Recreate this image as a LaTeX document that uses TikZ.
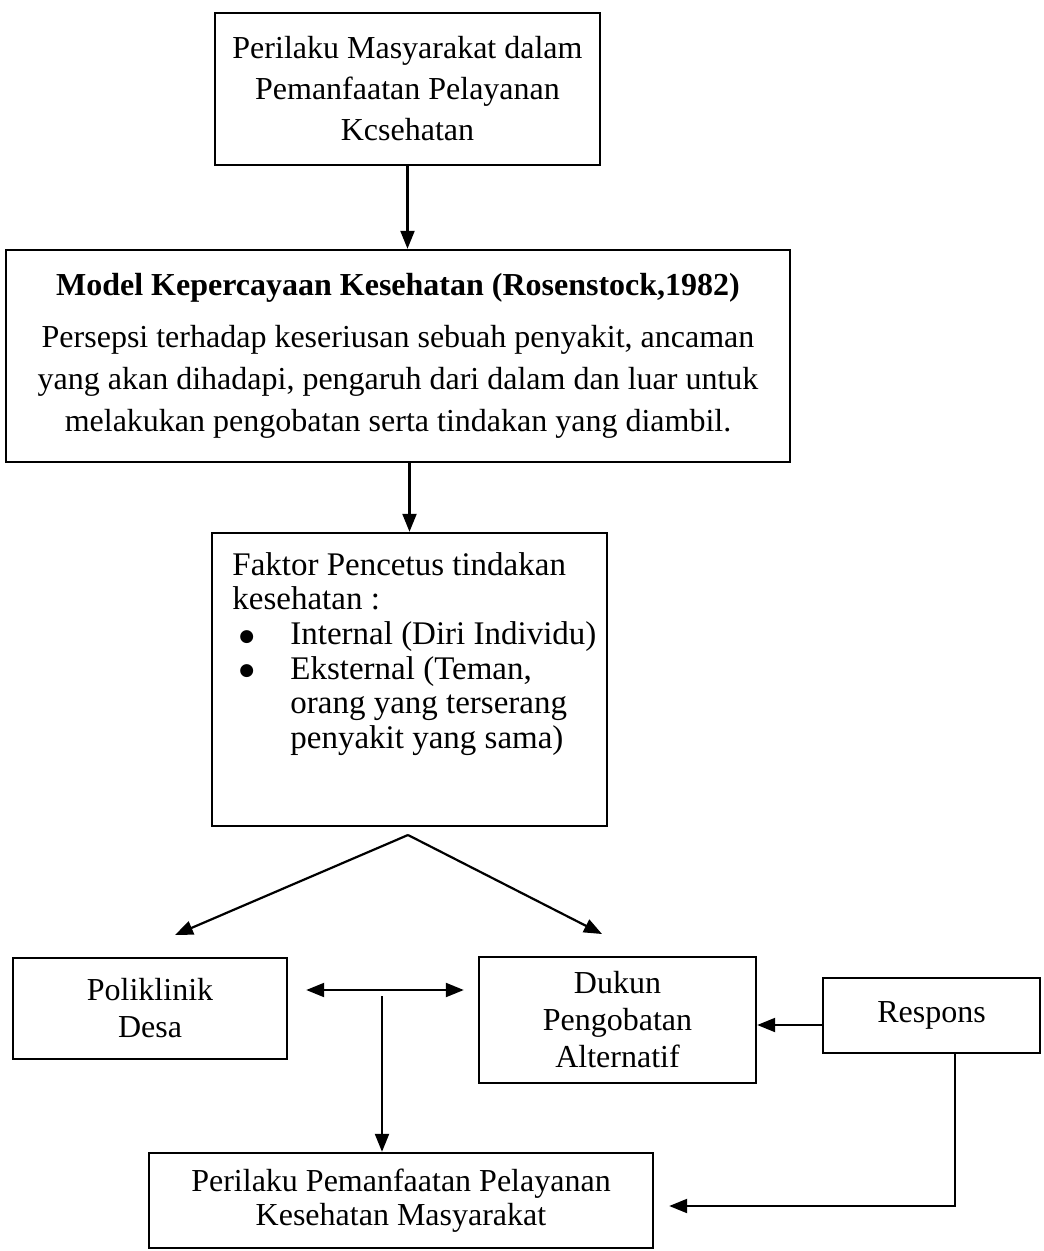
\documentclass[tikz,border=0pt]{standalone}
\usepackage{fontspec}
\setmainfont{Liberation Serif}
\newfontfamily\dvsfont{DejaVu Sans}
\usetikzlibrary{arrows.meta}
\newcommand\myBul{\makebox[29pt][l]{\hspace*{3.5pt}\raisebox{1.6pt}{\dvsfont\fontsize{8.5}{8.5}\selectfont ●}}}
\newcommand\myInd{\hspace*{29pt}}
\begin{document}
\begin{tikzpicture}[x=0.5pt,y=-0.5pt,
  box/.style={draw, line width=1.2pt, inner sep=0pt, align=center},
  arr/.style={line width=1.1pt, -{Triangle[length=9pt,width=7pt]}},
  darr/.style={line width=1.1pt, {Triangle[length=9pt,width=7pt]}-{Triangle[length=9pt,width=7pt]}},
]
\useasboundingbox (0,0) rectangle (1043,1251);
\fill[white] (0,0) rectangle (1043,1251);

\node[box, minimum width=192.5pt, minimum height=76pt, font=\fontsize{16}{20.5}\selectfont] (b1) at (407.5,89)
  {Perilaku Masyarakat dalam\\Pemanfaatan Pelayanan\\Kcsehatan};

\node[box, minimum width=392pt, minimum height=106pt, font=\fontsize{16}{21}\selectfont] (b2) at (398,356)
  {\textbf{Model Kepercayaan Kesehatan (Rosenstock,1982)}\\[5pt]
   Persepsi terhadap keseriusan sebuah penyakit, ancaman\\
   yang akan dihadapi, pengaruh dari dalam dan luar untuk\\
   melakukan pengobatan serta tindakan yang diambil.};

\node[box, minimum width=197.5pt, minimum height=146.5pt] (b3) at (409.5,679.5) {};
\node[inner sep=0pt, anchor=north west, align=left, font=\fontsize{16.5}{17.3}\selectfont] (t3) at (232,552)
  {Faktor Pencetus tindakan\\
   kesehatan :\\
   \myBul Internal (Diri Individu)\\
   \myBul Eksternal (Teman,\\
   \myInd orang yang terserang\\
   \myInd penyakit yang sama)};

\node[box, minimum width=137pt, minimum height=50.5pt, font=\fontsize{16}{18.5}\selectfont] (b4) at (150,1008.5)
  {Poliklinik\\Desa};
\node[box, minimum width=138.5pt, minimum height=63pt, font=\fontsize{16}{18.5}\selectfont] (b5) at (617.5,1020)
  {Dukun\\Pengobatan\\Alternatif};
\node[box, minimum width=108.5pt, minimum height=37.5pt, font=\fontsize{16}{18.5}\selectfont] (b6) at (931.5,1015.5)
  {Respons};
\node[box, minimum width=252pt, minimum height=47.5pt, font=\fontsize{16}{17}\selectfont] (b7) at (401,1200.5)
  {Perilaku Pemanfaatan Pelayanan\\Kesehatan Masyarakat};

% connectors
\draw[arr] (b1.south) -- (b1.south |- b2.north);
\draw[arr] (b3.north |- b2.south) -- (b3.north);

\coordinate (apex) at (408,835);
\coordinate (tipL) at (175,935);
\coordinate (tipR) at (602,934);
\draw[arr] (apex) -- (tipL);
\draw[arr] (apex) -- (tipR);

\coordinate (dy) at (0,990);
\draw[darr, shorten <=9pt, shorten >=7pt] (b4.east |- dy) -- (b5.west |- dy);

\coordinate (vtop) at (382,996);
\draw[arr] (vtop) -- (vtop |- b7.north);

\coordinate (ry) at (0,1025);
\draw[arr] (b6.west |- ry) -- (b5.east |- ry);

\coordinate (rx) at (955,0);
\coordinate (ry2) at (0,1206);
\draw[arr, shorten >=7.5pt] (b6.south -| rx) |- (b7.east |- ry2);
\end{tikzpicture}
\end{document}
